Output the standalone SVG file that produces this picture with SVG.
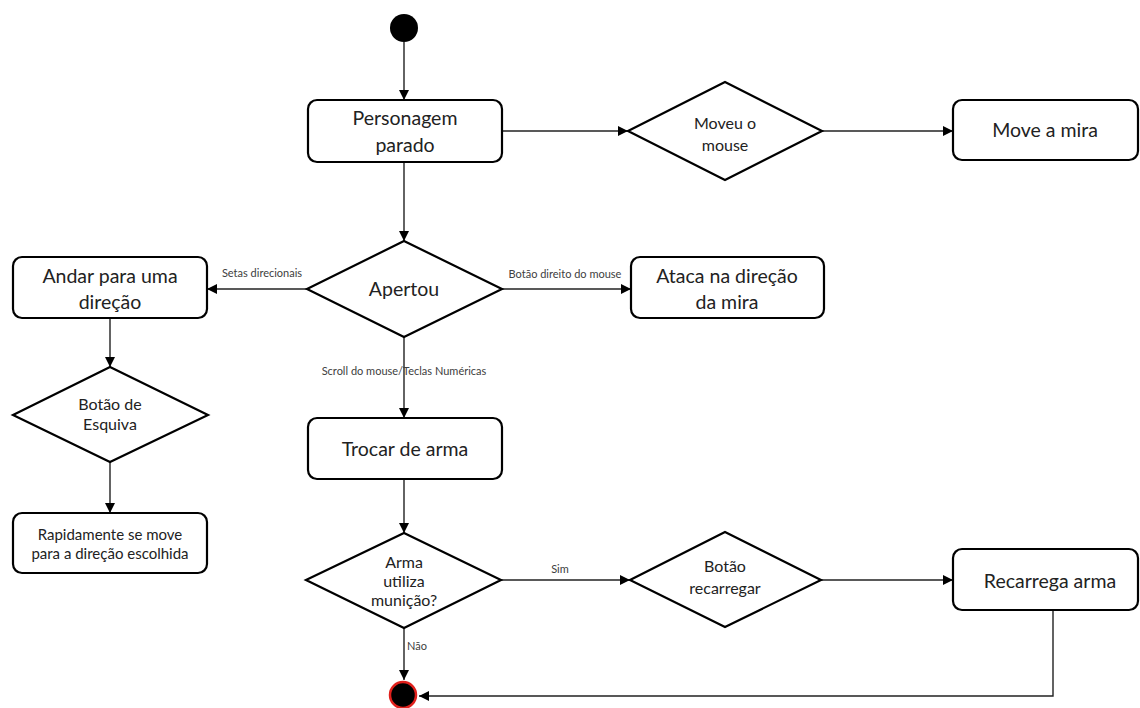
<svg xmlns="http://www.w3.org/2000/svg" width="1140" height="708" viewBox="0 0 1140 708">
<defs>
<style>
.box{fill:#fff;stroke:#000;stroke-width:2.2}
.dia{fill:#fff;stroke:#000;stroke-width:2.2}
.big{font-family:Lato,"Liberation Sans",sans-serif;font-size:19.5px;fill:#222;text-anchor:middle}
.mid{font-family:Lato,"Liberation Sans",sans-serif;font-size:16px;fill:#222;text-anchor:middle}
.sm{font-family:Lato,"Liberation Sans",sans-serif;font-size:15px;fill:#222;text-anchor:middle}
.lbl{font-family:Lato,"Liberation Sans",sans-serif;font-size:11px;fill:#404040;text-anchor:middle}
.edge{fill:none;stroke:#222;stroke-width:1.4}
</style>
<marker id="arr" viewBox="0 0 10 10" refX="10" refY="5" markerWidth="10" markerHeight="10" markerUnits="userSpaceOnUse" orient="auto">
<path d="M0,0 L10,5 L0,10 z" fill="#000"/>
</marker>
</defs>
<rect width="1140" height="708" fill="#fff"/>

<g id="connectors">
<line class="edge" x1="404" y1="42" x2="404" y2="100" marker-end="url(#arr)"/>
<line class="edge" x1="502" y1="131" x2="628" y2="131" marker-end="url(#arr)"/>
<line class="edge" x1="822" y1="131" x2="953" y2="131" marker-end="url(#arr)"/>
<line class="edge" x1="404" y1="162" x2="404" y2="241" marker-end="url(#arr)"/>
<line class="edge" x1="307" y1="289" x2="207" y2="289" marker-end="url(#arr)"/>
<line class="edge" x1="502" y1="289" x2="631" y2="289" marker-end="url(#arr)"/>
<line class="edge" x1="404" y1="337" x2="404" y2="418" marker-end="url(#arr)"/>
<line class="edge" x1="110" y1="318" x2="110" y2="367" marker-end="url(#arr)"/>
<line class="edge" x1="110" y1="462" x2="110" y2="513" marker-end="url(#arr)"/>
<line class="edge" x1="404" y1="479" x2="404" y2="533" marker-end="url(#arr)"/>
<line class="edge" x1="501" y1="580" x2="630" y2="580" marker-end="url(#arr)"/>
<line class="edge" x1="821" y1="580" x2="953" y2="580" marker-end="url(#arr)"/>
<line class="edge" x1="404" y1="628" x2="404" y2="680" marker-end="url(#arr)"/>
<polyline class="edge" points="1053,610 1053,696 419,696" marker-end="url(#arr)"/>
<text class="lbl" x="262" y="277">Setas direcionais</text>
<text class="lbl" x="565" y="278">Botão direito do mouse</text>
<text class="lbl" x="404" y="375">Scroll do mouse/Teclas Numéricas</text>
<text class="lbl" x="560" y="573">Sim</text>
<text class="lbl" x="407" y="650" style="text-anchor:start">Não</text>
</g>

<g id="start"><circle cx="404" cy="28" r="14" fill="#000"/></g>

<g id="personagem">
<rect class="box" x="308" y="100" width="194" height="62" rx="9"/>
<text class="big" x="405" y="125">Personagem</text>
<text class="big" x="405" y="152">parado</text>
</g>

<g id="moveu">
<polygon class="dia" points="628,131 725,82 822,131 725,180"/>
<text class="mid" x="725" y="129">Moveu o</text>
<text class="mid" x="725" y="151">mouse</text>
</g>

<g id="movemira">
<rect class="box" x="953" y="100" width="185" height="60" rx="9"/>
<text class="big" x="1045" y="137">Move a mira</text>
</g>

<g id="apertou">
<polygon class="dia" points="307,289 404,241 502,289 404,337"/>
<text class="big" x="404" y="296">Apertou</text>
</g>

<g id="andar">
<rect class="box" x="13" y="257" width="194" height="61" rx="9"/>
<text class="big" x="110" y="283">Andar para uma</text>
<text class="big" x="110" y="309">direção</text>
</g>

<g id="ataca">
<rect class="box" x="631" y="257" width="193" height="61" rx="9"/>
<text class="big" x="727" y="283">Ataca na direção</text>
<text class="big" x="727" y="309">da mira</text>
</g>

<g id="esquiva">
<polygon class="dia" points="13,415 110,367 208,415 110,462"/>
<text class="mid" x="110" y="410">Botão de</text>
<text class="mid" x="110" y="430">Esquiva</text>
</g>

<g id="rapidamente">
<rect class="box" x="13" y="513" width="194" height="60" rx="9"/>
<text class="sm" x="110" y="540">Rapidamente se move</text>
<text class="sm" x="110" y="559">para a direção escolhida</text>
</g>

<g id="trocar">
<rect class="box" x="308" y="418" width="194" height="61" rx="9"/>
<text class="big" x="405" y="456">Trocar de arma</text>
</g>

<g id="arma">
<polygon class="dia" points="306,580 404,533 501,580 404,628"/>
<text class="mid" x="404" y="568">Arma</text>
<text class="mid" x="404" y="587">utiliza</text>
<text class="mid" x="404" y="606">munição?</text>
</g>

<g id="botaorecarregar">
<polygon class="dia" points="630,580 725,532 821,580 725,627"/>
<text class="mid" x="725" y="572">Botão</text>
<text class="mid" x="725" y="594">recarregar</text>
</g>

<g id="recarrega">
<rect class="box" x="953" y="549" width="185" height="61" rx="9"/>
<text class="big" x="1050" y="588">Recarrega arma</text>
</g>

<g id="end">
<circle cx="403" cy="695" r="13" fill="#000" stroke="#e0201c" stroke-width="2.5"/>
</g>
</svg>
